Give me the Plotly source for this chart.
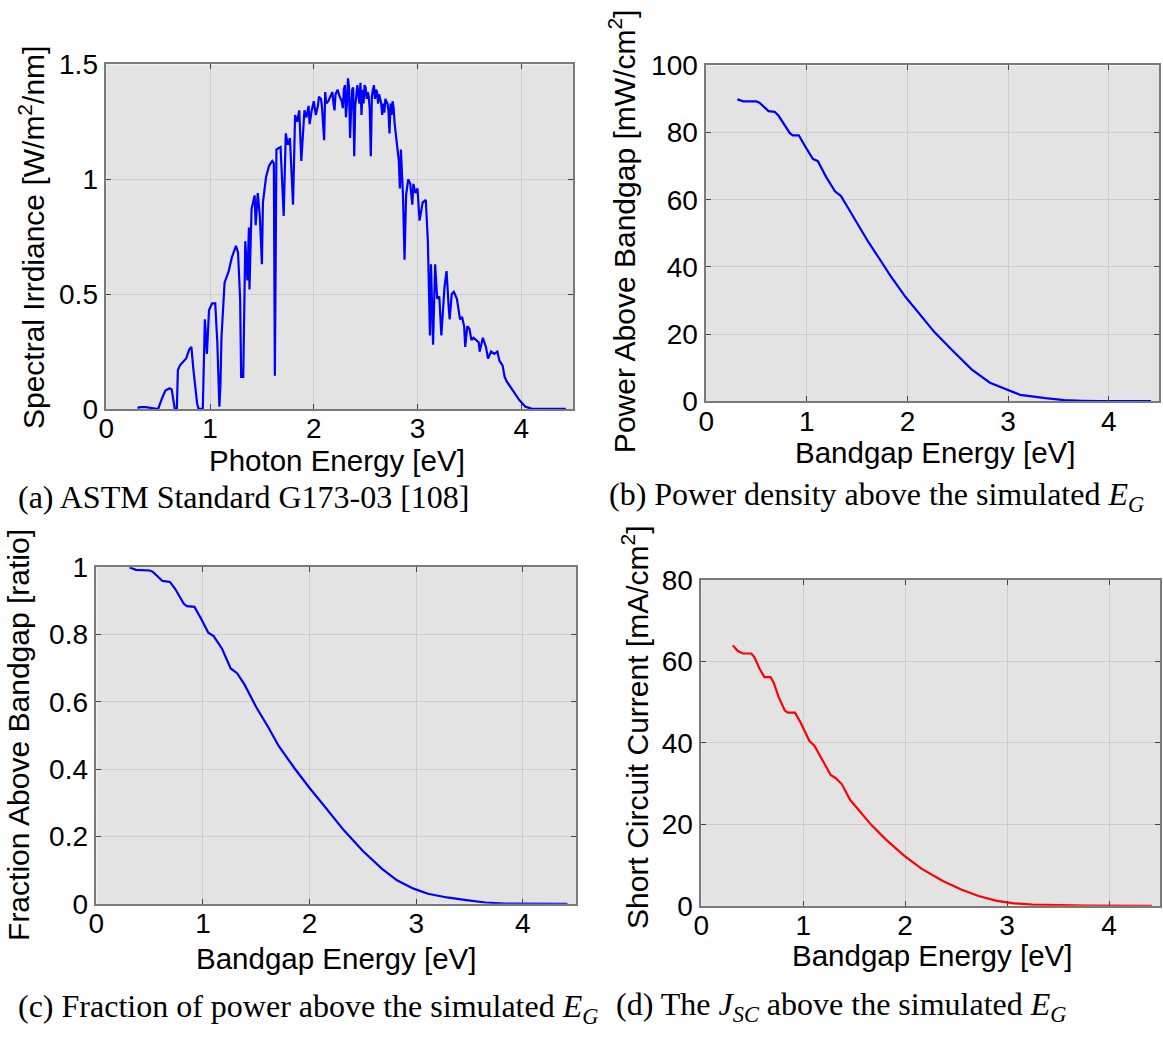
import plotly.graph_objects as go

# ---------------- data ----------------
# (a) ASTM G173-03 spectral irradiance [W/m^2/nm] vs photon energy [eV]
spec_energy = [
    0.30, 0.33, 0.38, 0.45, 0.48, 0.50, 0.54, 0.57, 0.61, 0.63, 0.66, 0.68,
    0.69, 0.71, 0.73, 0.75, 0.77, 0.80, 0.82, 0.84, 0.875, 0.89, 0.93, 0.95,
    0.97, 0.99, 1.02, 1.05, 1.07, 1.09, 1.10, 1.11, 1.14, 1.18, 1.21, 1.25,
    1.27, 1.29, 1.30, 1.32, 1.34, 1.36, 1.375, 1.38, 1.40, 1.43, 1.44, 1.46,
    1.48, 1.50, 1.51, 1.54, 1.57, 1.60, 1.615, 1.625, 1.635, 1.64, 1.68, 1.70,
    1.71, 1.73, 1.75, 1.77, 1.80, 1.82, 1.84, 1.86, 1.88, 1.91, 1.93, 1.95,
    1.96, 1.98, 2.00, 2.02, 2.04, 2.05, 2.07, 2.08, 2.10, 2.11, 2.12, 2.14,
    2.16, 2.18, 2.19, 2.20, 2.21, 2.23, 2.25, 2.27, 2.28, 2.29, 2.30, 2.31,
    2.32, 2.33, 2.34, 2.35, 2.36, 2.37, 2.38, 2.39, 2.40, 2.41, 2.42, 2.43,
    2.44, 2.45, 2.46, 2.47, 2.48, 2.49, 2.50, 2.51, 2.52, 2.53, 2.54, 2.55,
    2.56, 2.57, 2.58, 2.59, 2.60, 2.61, 2.62, 2.63, 2.64, 2.65, 2.66, 2.67,
    2.68, 2.69, 2.70, 2.71, 2.72, 2.73, 2.74, 2.75, 2.76, 2.77, 2.78, 2.79,
    2.80, 2.82, 2.83, 2.84, 2.86, 2.875, 2.89, 2.91, 2.93, 2.95, 2.96, 2.98,
    3.00, 3.02, 3.05, 3.08, 3.10, 3.12, 3.13, 3.15, 3.17, 3.19, 3.21, 3.23,
    3.26, 3.28, 3.30, 3.31, 3.33, 3.35, 3.38, 3.41, 3.43, 3.45, 3.46, 3.48,
    3.50, 3.52, 3.54, 3.57, 3.59, 3.60, 3.63, 3.66, 3.68, 3.71, 3.74, 3.77,
    3.79, 3.82, 3.84, 3.86, 3.89, 3.93, 3.98, 4.04, 4.11, 4.20, 4.43]
spec_irr = [
    0.005, 0.008, 0.008, 0.003, 0.0, 0.0, 0.05, 0.08, 0.09, 0.085, 0.0, 0.0,
    0.17, 0.19, 0.20, 0.21, 0.22, 0.26, 0.27, 0.17, 0.025, 0.0, 0.0, 0.39,
    0.24, 0.43, 0.46, 0.46, 0.29, 0.01, 0.10, 0.31, 0.55, 0.60, 0.66, 0.71,
    0.68, 0.48, 0.14, 0.14, 0.73, 0.56, 0.79, 0.52, 0.87, 0.93, 0.80, 0.94,
    0.84, 0.63, 0.90, 1.01, 1.06, 1.08, 1.07, 0.145, 0.60, 1.13, 1.14, 0.96,
    0.84, 1.20, 1.15, 1.18, 0.89, 1.28, 1.25, 1.30, 1.08, 1.30, 1.27, 1.32,
    1.24, 1.30, 1.34, 1.28, 1.32, 1.36, 1.35, 1.31, 1.17, 1.38, 1.33, 1.34,
    1.36, 1.38, 1.33, 1.30, 1.37, 1.39, 1.36, 1.34, 1.31, 1.39, 1.41, 1.27,
    1.33, 1.44, 1.40, 1.18, 1.30, 1.39, 1.40, 1.10, 1.32, 1.39, 1.41, 1.37,
    1.33, 1.42, 1.28, 1.39, 1.33, 1.41, 1.40, 1.35, 1.38, 1.36, 1.30, 1.10,
    1.36, 1.39, 1.41, 1.35, 1.39, 1.38, 1.33, 1.37, 1.35, 1.33, 1.28, 1.33,
    1.29, 1.35, 1.34, 1.33, 1.30, 1.20, 1.33, 1.28, 1.34, 1.31, 1.24, 1.20,
    1.15, 1.08, 0.96, 1.13, 0.93, 0.65, 0.93, 1.00, 0.98, 0.89, 0.98, 0.94,
    0.96, 0.82, 0.90, 0.91, 0.73, 0.32, 0.63, 0.28, 0.63, 0.48, 0.49, 0.32,
    0.53, 0.60, 0.45, 0.39, 0.50, 0.51, 0.48, 0.39, 0.40, 0.36, 0.27, 0.36,
    0.35, 0.30, 0.31, 0.30, 0.29, 0.25, 0.31, 0.27, 0.22, 0.25, 0.24, 0.25,
    0.21, 0.19, 0.14, 0.12, 0.10, 0.07, 0.04, 0.01, 0.0, 0.0, 0.0]

# (b) power density above the bandgap [mW/cm^2]
pow_energy = [0.31, 0.37, 0.50, 0.53, 0.62, 0.68, 0.72, 0.83, 0.86, 0.92, 0.99, 1.06,
              1.11, 1.19, 1.28, 1.34, 1.39, 1.50, 1.61, 1.72, 1.83, 1.98, 2.09, 2.27,
              2.46, 2.64, 2.82, 3.01, 3.12, 3.37, 3.56, 3.74, 3.92, 4.42]
pow_above = [89.9, 89.3, 89.3, 88.9, 86.4, 86.2, 85.0, 79.9, 79.2, 79.2, 75.6, 72.2,
             71.5, 66.9, 62.5, 61.1, 58.6, 52.9, 47.5, 42.5, 37.4, 31.1, 27.2, 20.5,
             14.7, 9.4, 5.5, 3.1, 1.9, 0.9, 0.3, 0.1, 0.0, 0.0]

# (c) fraction of power above the bandgap [ratio]
frac_energy = [0.31, 0.37, 0.50, 0.53, 0.62, 0.69, 0.74, 0.82, 0.85, 0.92, 0.98, 1.05,
               1.10, 1.18, 1.26, 1.32, 1.39, 1.50, 1.61, 1.71, 1.86, 2.00, 2.14, 2.32,
               2.50, 2.68, 2.82, 2.97, 3.11, 3.29, 3.47, 3.65, 3.83, 4.42]
frac_above = [1.0, 0.992, 0.990, 0.986, 0.959, 0.956, 0.935, 0.891, 0.884, 0.882, 0.848, 0.805,
              0.795, 0.757, 0.699, 0.685, 0.651, 0.584, 0.526, 0.469, 0.402, 0.344, 0.290, 0.219,
              0.157, 0.104, 0.070, 0.046, 0.030, 0.019, 0.011, 0.004, 0.001, 0.0]

# (d) short circuit current above the bandgap [mA/cm^2]
jsc_energy = [0.31, 0.36, 0.41, 0.49, 0.52, 0.57, 0.62, 0.68, 0.71, 0.76, 0.82, 0.85,
              0.92, 0.97, 1.03, 1.06, 1.11, 1.18, 1.27, 1.32, 1.38, 1.46, 1.57, 1.67,
              1.81, 1.99, 2.16, 2.37, 2.55, 2.72, 2.90, 3.07, 3.25, 3.46, 3.77, 4.42]
jsc_above = [63.9, 62.5, 61.9, 61.9, 61.1, 58.3, 56.1, 56.1, 54.8, 51.2, 47.9, 47.4,
             47.4, 45.2, 42.1, 40.5, 39.3, 36.1, 32.1, 31.3, 29.8, 26.0, 22.6, 19.8,
             16.3, 12.3, 9.1, 6.1, 4.0, 2.4, 1.2, 0.6, 0.3, 0.15, 0.05, 0.0]

x_ticks = [0, 1, 2, 3, 4]

# ---------------- layout helpers ----------------
W, H = 1163, 1046
SANS = "Liberation Sans, Arial, sans-serif"
SERIF = "Liberation Serif, Times New Roman, serif"


def px_x(p):
    return p / W


def px_y(p):
    return 1 - p / H


# pixel boxes (left, top, right, bottom)
boxes = {
    "a": (99, 51, 569, 406),
    "b": (703, 52, 1159, 398),
    "c": (89, 569, 572, 916),
    "d": (698, 582, 1160, 918),
}

fig = go.Figure()

series = [
    ("a", spec_energy, spec_irr, "#0000ff"),
    ("b", pow_energy, pow_above, "#0000ff"),
    ("c", frac_energy, frac_above, "#0000ff"),
    ("d", jsc_energy, jsc_above, "#ff0000"),
]
yranges = {"a": ([0, 1.5], 0.5), "b": ([0, 100], 20), "c": ([0, 1], 0.2), "d": ([0, 80], 20)}

for i, (key, xs, ys, col) in enumerate(series):
    n = "" if i == 0 else str(i + 1)
    fig.add_trace(go.Scatter(x=xs, y=ys, mode="lines", line=dict(color=col, width=2.2),
                             xaxis="x" + n, yaxis="y" + n, showlegend=False,
                             hoverinfo="skip"))
    l, t, r, b = boxes[key]
    common = dict(showgrid=True, gridcolor="#cdcdcd", gridwidth=1,
                  showline=True, linecolor="#7a7a7a", linewidth=1.5, mirror="allticks",
                  ticks="inside", ticklen=5, tickcolor="#444444", zeroline=False,
                  tickfont=dict(family=SANS, size=28, color="#000000"))
    fig.update_layout(**{
        "xaxis" + n: dict(domain=[px_x(l), px_x(r)], range=[0, 4.5], tickvals=x_ticks,
                          anchor="y" + n, ticklabelstandoff=-6, **common),
        "yaxis" + n: dict(domain=[px_y(b), px_y(t)], range=yranges[key][0],
                          dtick=yranges[key][1], anchor="x" + n, ticklabelstandoff=1, **common),
    })

annots = []
# y-axis titles (x center, y center)
ytitles = [
    ("Spectral Irrdiance [W/m<sup>2</sup>/nm]", 24, 229),
    ("Power Above Bandgap [mW/cm<sup>2</sup>]", 619, 223),
    ("Fraction Above Bandgap [ratio]", 10, 742),
    ("Short Circuit Current [mA/cm<sup>2</sup>]", 632, 734),
]
for txt, x, y in ytitles:
    annots.append(dict(text=txt, x=px_x(x), y=px_y(y), xref="paper", yref="paper",
                       textangle=-90, showarrow=False, xanchor="center", yanchor="middle",
                       font=dict(family=SANS, size=30, color="#000000")))
xtitles = [
    ("Photon Energy [eV]", 331, 459),
    ("Bandgap Energy [eV]", 933, 451),
    ("Bandgap Energy [eV]", 330, 972),
    ("Bandgap Energy [eV]", 930, 969),
]
for txt, x, y in xtitles:
    annots.append(dict(text=txt, x=px_x(x), y=px_y(y), xref="paper", yref="paper",
                       showarrow=False, xanchor="center", yanchor="middle",
                       font=dict(family=SANS, size=29.5, color="#000000")))
captions = [
    ("(a) ASTM Standard G173-03 [108]", 8, 497),
    ("(b) Power density above the simulated <i>E<sub>G</sub></i>", 603, 496),
    ("(c) Fraction of power above the simulated <i>E<sub>G</sub></i>", 8, 1024),
    ("(d) The <i>J<sub>SC</sub></i> above the simulated <i>E<sub>G</sub></i>", 610, 1022),
]
for txt, x, y in captions:
    annots.append(dict(text=txt, x=px_x(x), y=px_y(y), xref="paper", yref="paper",
                       showarrow=False, xanchor="left", yanchor="middle",
                       font=dict(family=SERIF, size=32, color="#000000")))

fig.update_layout(
    width=W, height=H,
    margin=dict(l=0, r=0, t=0, b=0),
    paper_bgcolor="#ffffff",
    plot_bgcolor="#e3e3e3",
    annotations=annots,
    showlegend=False,
)

fig.write_html("out.html", config={"displayModeBar": False})
